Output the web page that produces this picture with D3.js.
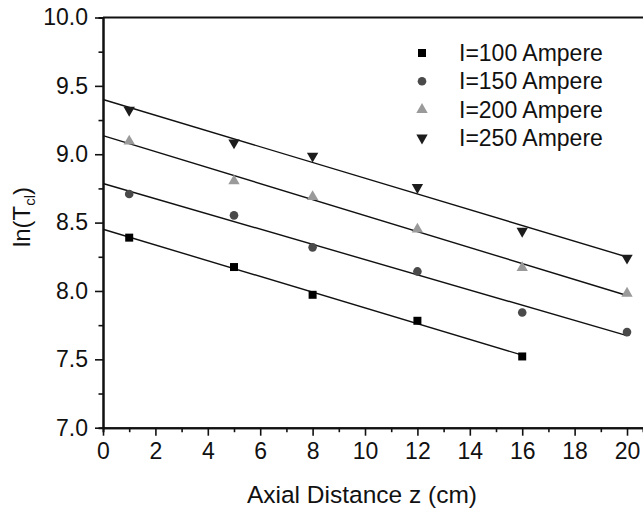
<!DOCTYPE html>
<html>
<head>
<meta charset="utf-8">
<script src="https://cdn.jsdelivr.net/npm/d3@7"></script>
<style>
  body { margin: 0; background: #fff; }
  svg { display: block; font-family: "Liberation Sans", Arial, Helvetica, sans-serif; }
</style>
</head>
<body>
<svg id="chart" width="643" height="511"></svg>
<script>
// axial distance (cm) where the temperature was measured
var zShort = [1, 5, 8, 12, 16];
var zLong = [1, 5, 8, 12, 16, 20];

// ln(T_cl), one array per current
var lnT100 = [8.39, 8.175, 7.972, 7.782, 7.521];
var lnT150 = [8.709, 8.553, 8.319, 8.143, 7.843, 7.699];
var lnT200 = [9.095, 8.804, 8.689, 8.451, 8.170, 7.982];
var lnT250 = [9.323, 9.084, 8.987, 8.758, 8.438, 8.241];

var seriesNames = ["I=100 Ampere", "I=150 Ampere", "I=200 Ampere", "I=250 Ampere"];

var xTicks = [0, 2, 4, 6, 8, 10, 12, 14, 16, 18, 20];
var xMinorTicks = [1, 3, 5, 7, 9, 11, 13, 15, 17, 19];
var yTicks = [7.0, 7.5, 8.0, 8.5, 9.0, 9.5, 10.0];
var yMinorTicks = [7.25, 7.75, 8.25, 8.75, 9.25, 9.75];

// glue the arrays together, plus how each one gets drawn
var series = [
  { name: seriesNames[0], z: zShort, v: lnT100, shape: d3.symbolSquare, size: 64, fill: "#000" },
  { name: seriesNames[1], z: zLong, v: lnT150, shape: d3.symbolCircle, size: 58, fill: "#4a4a4a" },
  { name: seriesNames[2], z: zLong, v: lnT200, shape: d3.symbolTriangle, size: 56, fill: "#9a9a9a", rot: 0 },
  { name: seriesNames[3], z: zLong, v: lnT250, shape: d3.symbolTriangle, size: 56, fill: "#1c1c1c", rot: 180 }
];

var svg = d3.select("#chart");
// plot box (window.top is taken, so prefix these)
var pLeft = 103, pTop = 17.5, pRight = 643, pBottom = 427.7;

// x axis is cut off by the picture edge, so the domain runs a bit past 20
var x = d3.scaleLinear().domain([0, 20.61]).range([pLeft, pRight]);
var y = d3.scaleLinear().domain([7, 10]).range([pBottom, pTop]);

// simple least squares, the straight lines are fits through the points
function fit(xs, ys) {
  var mx = d3.mean(xs), my = d3.mean(ys);
  var sxy = d3.sum(xs, function(d, i) { return (d - mx) * (ys[i] - my); });
  var sxx = d3.sum(xs, function(d) { return (d - mx) * (d - mx); });
  var b = sxy / sxx;
  return { a: my - b * mx, b: b };
}

// fit lines
series.forEach(function(s) {
  var f = fit(s.z, s.v);
  var ends = [0, d3.max(s.z)];
  svg.append("path")
    .datum(ends)
    .attr("fill", "none")
    .attr("stroke", "#111")
    .attr("stroke-width", 1.4)
    .attr("d", d3.line().x(function(d) { return x(d); }).y(function(d) { return y(f.a + f.b * d); }));
});

// markers
series.forEach(function(s) {
  svg.append("g").selectAll("path")
    .data(s.z.map(function(d, i) { return [d, s.v[i]]; }))
    .join("path")
    .attr("d", d3.symbol().type(s.shape).size(s.size))
    .attr("fill", s.fill)
    .attr("transform", function(d) {
      return "translate(" + x(d[0]) + "," + y(d[1]) + ")" + (s.rot ? " rotate(" + s.rot + ")" : "");
    });
});

// axes
function styleAxis(g) {
  g.selectAll(".domain").attr("stroke", "#111").attr("stroke-width", 2);
  g.selectAll(".tick line").attr("stroke", "#111").attr("stroke-width", 1.6);
  g.selectAll("text").attr("fill", "#111").style("font-size", "23px").style("font-family", null);
}

svg.append("g")
  .attr("transform", "translate(0," + pBottom + ")")
  .call(d3.axisBottom(x).tickValues(xMinorTicks).tickSize(4.5).tickFormat(""))
  .call(styleAxis);
svg.append("g")
  .attr("transform", "translate(0," + pBottom + ")")
  .call(d3.axisBottom(x).tickValues(xTicks).tickSize(8).tickSizeOuter(0).tickPadding(7).tickFormat(d3.format("d")))
  .call(styleAxis);

svg.append("g")
  .attr("transform", "translate(" + pLeft + ",0)")
  .call(d3.axisLeft(y).tickValues(yMinorTicks).tickSize(4.5).tickFormat(""))
  .call(styleAxis);
svg.append("g")
  .attr("transform", "translate(" + pLeft + ",0)")
  .call(d3.axisLeft(y).tickValues(yTicks).tickSize(8).tickSizeOuter(0).tickPadding(7).tickFormat(d3.format(".1f")))
  .call(styleAxis);

// top frame line
svg.append("line")
  .attr("x1", pLeft).attr("x2", pRight)
  .attr("y1", pTop).attr("y2", pTop)
  .attr("stroke", "#111").attr("stroke-width", 2);

// axis titles
svg.append("text")
  .attr("x", 362).attr("y", 503)
  .attr("text-anchor", "middle")
  .style("font-size", "24.5px")
  .attr("fill", "#111")
  .text("Axial Distance z (cm)");

var yt = svg.append("text")
  .attr("transform", "translate(30,217) rotate(-90)")
  .attr("text-anchor", "middle")
  .style("font-size", "24px")
  .attr("fill", "#111");
yt.append("tspan").text("ln(T");
yt.append("tspan").attr("dy", 5).style("font-size", "15px").text("cl");
yt.append("tspan").attr("dy", -5).text(")");

// legend
var legend = svg.append("g").attr("transform", "translate(422,53)");
series.forEach(function(s, i) {
  var row = legend.append("g").attr("transform", "translate(0," + i * 28.3 + ")");
  row.append("path")
    .attr("d", d3.symbol().type(s.shape).size(s.size))
    .attr("fill", s.fill)
    .attr("transform", s.rot ? "rotate(" + s.rot + ")" : null);
  row.append("text")
    .attr("x", 37).attr("y", 8)
    .style("font-size", "23px")
    .attr("fill", "#111")
    .text(s.name);
});
</script>
</body>
</html>
